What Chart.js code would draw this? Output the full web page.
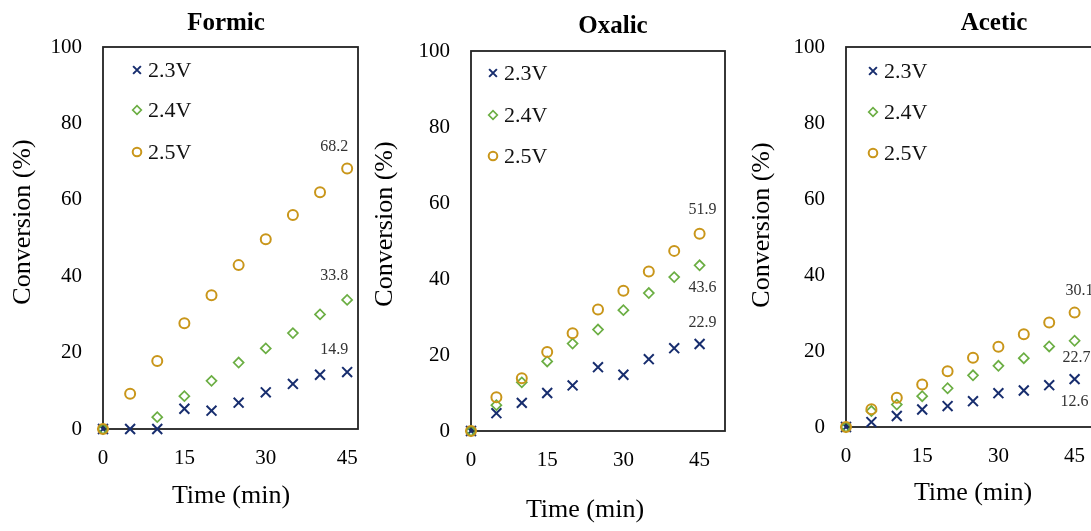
<!doctype html>
<html lang="en">
<head>
<meta charset="utf-8">
<title>Conversion vs time</title>
<style>
  html, body { margin: 0; padding: 0; background: #fff; overflow: hidden; }
  .panel { position: absolute; top: 0; width: 370px; height: 531px; }
</style>
</head>
<body>
<div class="panel" style="left:0px"><canvas id="chartFormic" width="370" height="531"></canvas></div>
<div class="panel" style="left:370px"><canvas id="chartOxalic" width="370" height="531"></canvas></div>
<div class="panel" style="left:740px"><canvas id="chartAcetic" width="370" height="531"></canvas></div>

<script src="https://cdn.jsdelivr.net/npm/chart.js"></script>
<script>
// time axis (min) and tick labels
const times = [0, 5, 10, 15, 20, 25, 30, 35, 40, 45];
const xTicks = [0, 15, 30, 45];
const seriesNames = ['2.3V', '2.4V', '2.5V'];

// Formic
const formic23 = [0, 0, 0, 5.3, 4.8, 6.9, 9.6, 11.8, 14.2, 14.9];
const formic24 = [0, null, 3.1, 8.6, 12.6, 17.4, 21.1, 25.1, 30.0, 33.8];
const formic25 = [0, 9.2, 17.8, 27.7, 35.0, 42.9, 49.7, 56.0, 62.0, 68.2];

// Oxalic
const oxalic23 = [0, 4.7, 7.4, 10.0, 12.0, 16.8, 14.8, 18.9, 21.8, 22.9];
const oxalic24 = [0, 6.8, 12.8, 18.3, 23.0, 26.7, 31.8, 36.3, 40.5, 43.6];
const oxalic25 = [0, 8.9, 13.9, 20.8, 25.7, 32.0, 36.9, 42.0, 47.4, 51.9];

// Acetic
const acetic23 = [0, 1.3, 2.9, 4.6, 5.5, 6.8, 8.9, 9.6, 11.0, 12.6];
const acetic24 = [0, 4.2, 5.9, 8.1, 10.2, 13.6, 16.1, 18.1, 21.2, 22.7];
const acetic25 = [0, 4.7, 7.7, 11.2, 14.7, 18.2, 21.1, 24.4, 27.5, 30.1];

const SERIF = "'Liberation Serif', 'Times New Roman', serif";
const colors = ['#172D6E', '#6BAE43', '#C9961A'];
const styles = ['crossRot', 'rectRot', 'circle'];
const radii = [7, 5, 5];
const widths = [2, 1.7, 2];

// small marker drawer for the in-plot legend
function drawMarker(ctx, style, x, y, r, color, lw) {
  ctx.save();
  ctx.strokeStyle = color;
  ctx.lineWidth = lw;
  ctx.beginPath();
  if (style === 'crossRot') {
    const d = r * Math.SQRT1_2;
    ctx.moveTo(x - d, y - d); ctx.lineTo(x + d, y + d);
    ctx.moveTo(x + d, y - d); ctx.lineTo(x - d, y + d);
  } else if (style === 'rectRot') {
    ctx.moveTo(x - r, y); ctx.lineTo(x, y - r); ctx.lineTo(x + r, y); ctx.lineTo(x, y + r);
    ctx.closePath();
  } else {
    ctx.arc(x, y, r, 0, Math.PI * 2);
  }
  ctx.stroke();
  ctx.restore();
}

const decorations = {
  id: 'decorations',
  beforeDatasetsDraw(chart, args, o) {
    const a = chart.chartArea, ctx = chart.ctx;
    ctx.save();
    ctx.strokeStyle = '#222';
    ctx.lineWidth = 1.8;
    ctx.strokeRect(a.left, a.top, a.right - a.left, a.bottom - a.top);
    ctx.restore();
  },
  afterDraw(chart, args, o) {
    const ctx = chart.ctx, off = o.left;
    ctx.save();
    ctx.fillStyle = '#000';
    ctx.textAlign = 'center';
    ctx.textBaseline = 'middle';
    // panel title
    ctx.font = 'bold 25px ' + SERIF;
    ctx.fillText(o.title, o.titleX - off, o.titleY);
    // axis titles
    ctx.font = '26px ' + SERIF;
    ctx.fillText('Time (min)', o.xTitleX - off, o.xTitleY);
    ctx.save();
    ctx.translate(o.yTitleX - off, o.yTitleY);
    ctx.rotate(-Math.PI / 2);
    ctx.fillText('Conversion (%)', 0, 0);
    ctx.restore();
    // legend inside the plot
    ctx.font = '22px ' + SERIF;
    ctx.textAlign = 'left';
    seriesNames.forEach(function (name, i) {
      drawMarker(ctx, styles[i], o.legendX - off, o.legendYs[i], i === 0 ? 5.5 : 4.3, colors[i], widths[i]);
      ctx.fillStyle = '#111';
      ctx.fillText(name, o.legendX - off + 11, o.legendYs[i] + 1);
    });
    // end-point value labels
    ctx.font = '16px ' + SERIF;
    ctx.textAlign = 'center';
    ctx.fillStyle = '#333';
    chart.data.datasets.forEach(function (ds, i) {
      const meta = chart.getDatasetMeta(i);
      const pt = meta.data[meta.data.length - 1];
      const v = ds.data[ds.data.length - 1].y;
      ctx.fillText(v.toFixed(1), pt.x + o.labelOffsets[i][0], pt.y + o.labelOffsets[i][1]);
    });
    ctx.restore();
  }
};

function makePanel(id, values, p) {
  const datasets = values.map(function (vals, i) {
    return {
      label: seriesNames[i],
      data: times.map(function (t, k) { return { x: t, y: vals[k] }; }),
      showLine: false,
      pointStyle: styles[i],
      pointRadius: radii[i],
      pointHoverRadius: radii[i],
      pointBorderWidth: widths[i],
      borderColor: colors[i],
      backgroundColor: 'rgba(0,0,0,0)',
      clip: false
    };
  }).reverse();
  p.labelOffsets = p.labelOffsets.slice().reverse();

  return new Chart(document.getElementById(id), {
    type: 'scatter',
    data: { datasets: datasets },
    options: {
      responsive: false,
      animation: false,
      events: [],
      layout: {
        padding: { left: 0, top: p.plotTop, right: p.left + 370 - p.plotRight, bottom: 531 - p.plotBottom - 60 }
      },
      plugins: {
        legend: { display: false },
        title: { display: false },
        tooltip: { enabled: false },
        decorations: p
      },
      scales: {
        x: {
          type: 'linear',
          min: 0,
          max: p.xMax,
          afterBuildTicks: function (s) { s.ticks = xTicks.map(function (v) { return { value: v }; }); },
          afterFit: function (s) { s.height = 60; s.paddingLeft = 0; s.paddingRight = 0; },
          grid: { display: false, drawTicks: false },
          border: { display: false },
          ticks: { color: '#000', font: { family: SERIF, size: 21 }, padding: 17, maxRotation: 0 }
        },
        y: {
          min: 0,
          max: 100,
          afterFit: function (s) { s.width = p.plotLeft - p.left; s.paddingTop = 0; s.paddingBottom = 0; },
          grid: { display: false, drawTicks: false },
          border: { display: false },
          ticks: { stepSize: 20, color: '#000', font: { family: SERIF, size: 21 }, padding: 21 }
        }
      }
    },
    plugins: [decorations]
  });
}

makePanel('chartFormic', [formic23, formic24, formic25], {
  left: 0, plotLeft: 103, plotRight: 358, plotTop: 47, plotBottom: 429, xMax: 47,
  title: 'Formic', titleX: 226, titleY: 24,
  xTitleX: 231, xTitleY: 496, yTitleX: 23, yTitleY: 222,
  legendX: 137, legendYs: [70, 110, 152],
  labelOffsets: [[-13, -22], [-13, -24], [-13, -22]]
});

makePanel('chartOxalic', [oxalic23, oxalic24, oxalic25], {
  left: 370, plotLeft: 471, plotRight: 725, plotTop: 51, plotBottom: 431, xMax: 50,
  title: 'Oxalic', titleX: 613, titleY: 27,
  xTitleX: 585, xTitleY: 510, yTitleX: 385, yTitleY: 224,
  legendX: 493, legendYs: [73, 115, 156],
  labelOffsets: [[3, -21], [3, 22], [3, -24]]
});

makePanel('chartAcetic', [acetic23, acetic24, acetic25], {
  left: 740, plotLeft: 846, plotRight: 1100, plotTop: 47, plotBottom: 427, xMax: 50,
  title: 'Acetic', titleX: 994, titleY: 24,
  xTitleX: 973, xTitleY: 493, yTitleX: 762, yTitleY: 225,
  legendX: 873, legendYs: [71, 112, 153],
  labelOffsets: [[0, 23], [2, 17], [5, -22]]
});
</script>
</body>
</html>
